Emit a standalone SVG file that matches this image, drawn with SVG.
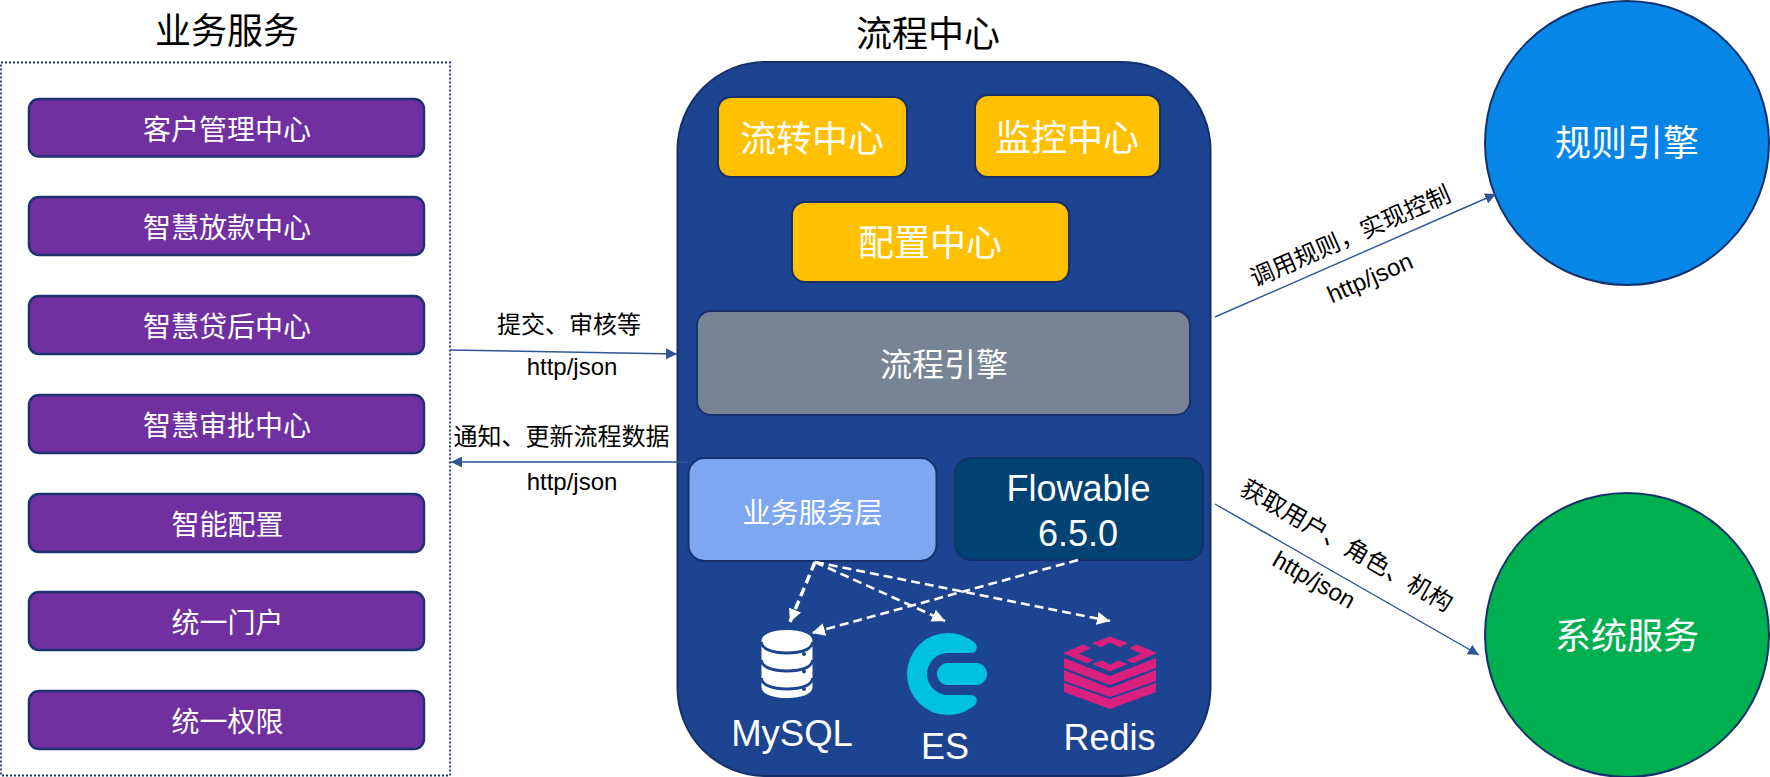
<svg xmlns="http://www.w3.org/2000/svg" width="1770" height="777" viewBox="0 0 1770 777">
<style>
text{font-family:"Noto Sans CJK SC","Liberation Sans",sans-serif;text-anchor:middle;fill:#fff}
.lat{font-family:"Liberation Sans",Arial,sans-serif}
.lab{fill:#000;font-size:24px}
.title{fill:#000;font-size:36px}
.item rect{fill:#7030A0;stroke:#1B3370;stroke-width:2.5}
.item text{font-size:28px}
.y rect{fill:#FFC000;stroke:#15306B;stroke-width:2}
.y text{font-size:36px}
.conn{fill:none;stroke:#2F5597;stroke-width:1.4}
.dash{fill:none;stroke:#fff;stroke-width:2.6;stroke-dasharray:9 5}
.dash2{stroke-width:3.4}
</style>
<defs>
<marker id="a" viewBox="0 0 10 10" refX="10" refY="5" markerWidth="11" markerHeight="11" markerUnits="userSpaceOnUse" orient="auto"><path d="M0 0L10 5L0 10Z" fill="#2F5597"/></marker>
<marker id="w" viewBox="0 0 10 10" refX="10" refY="5" markerWidth="13" markerHeight="13" markerUnits="userSpaceOnUse" orient="auto"><path d="M0 0L10 5L0 10Z" fill="#fff"/></marker>
</defs>
<rect width="1770" height="777" fill="#fff"/>
<text class="title" x="227" y="44">业务服务</text>
<text class="title" x="928" y="47">流程中心</text>
<rect id="business-frame" x="1" y="62.500" width="449" height="713" fill="#fff" stroke="#1B3370" stroke-width="1.800" stroke-dasharray="2 2"/>
<g id="n-kehu" class="item"><rect x="29" y="99" width="395" height="57.500" rx="10"/><text x="227" y="140">客户管理中心</text></g>
<g id="n-fangkuan" class="item"><rect x="29" y="197" width="395" height="58" rx="10"/><text x="227" y="238">智慧放款中心</text></g>
<g id="n-daihou" class="item"><rect x="29" y="296" width="395" height="58" rx="10"/><text x="227" y="337">智慧贷后中心</text></g>
<g id="n-shenpi" class="item"><rect x="29" y="395" width="395" height="58" rx="10"/><text x="227" y="436">智慧审批中心</text></g>
<g id="n-peizhi" class="item"><rect x="29" y="494" width="395" height="58" rx="10"/><text x="227.500" y="535">智能配置</text></g>
<g id="n-menhu" class="item"><rect x="29" y="592" width="395" height="58" rx="10"/><text x="227.500" y="633">统一门户</text></g>
<g id="n-quanxian" class="item"><rect x="29" y="691" width="395" height="58" rx="10"/><text x="227.500" y="732">统一权限</text></g>
<g id="n-center"><rect x="677.500" y="62" width="533" height="714" rx="88" fill="#1C4491" stroke="#15306B" stroke-width="2"/></g>
<g id="n-liuzhuan" class="y"><rect x="718" y="97" width="189" height="80" rx="13"/><text x="812" y="152">流转中心</text></g>
<g id="n-jiankong" class="y"><rect x="975" y="95" width="185" height="82" rx="13"/><text x="1067" y="151">监控中心</text></g>
<g id="n-config" class="y"><rect x="792" y="202" width="277" height="80" rx="13"/><text x="930" y="256">配置中心</text></g>
<g id="n-engine"><rect x="697" y="311" width="493" height="104" rx="14" fill="#778495" stroke="#15306B" stroke-width="2"/><text x="944" y="376" font-size="32">流程引擎</text></g>
<g id="n-service"><rect x="688.500" y="458" width="248" height="103" rx="16" fill="#7DA7F0" stroke="#15306B" stroke-width="2"/><text x="812.500" y="523" font-size="28">业务服务层</text></g>
<g id="n-flowable"><rect x="955" y="458" width="248" height="102" rx="16" fill="#004274" stroke="#15306B" stroke-width="2"/><text class="lat" x="1078.500" y="501" font-size="36">Flowable</text><text class="lat" x="1078" y="546" font-size="36">6.5.0</text></g>
<g id="n-mysql">
<path d="M761.500 641c0-7 11-11 25.500-11s25.500 4 25.500 11v46c0 7-11 11-25.500 11s-25.500-4-25.500-11z" fill="#fff"/>
<path d="M761.500 642c0 7 11 11 25.500 11s25.500-4 25.500-11M761.500 660c0 7 11 11 25.500 11s25.500-4 25.500-11M761.500 678c0 7 11 11 25.500 11s25.500-4 25.500-11" fill="none" stroke="#1C4491" stroke-width="2.800"/>
<circle cx="804" cy="654" r="2" fill="#1C4491"/><circle cx="804" cy="671.500" r="2" fill="#1C4491"/><circle cx="804" cy="689" r="2" fill="#1C4491"/>
<text class="lat" x="792" y="746" font-size="36.500">MySQL</text></g>
<g id="n-es">
<path d="M948 633C958 633 968 637 975 643C979 648 976 653 970 653H948A21 21 0 0 0 948 695H970C976 695 979 700 975 705C968 711 958 715 948 715A41 41 0 0 1 948 633Z" fill="#00C2DE"/>
<rect x="937" y="663" width="50" height="22" rx="11" fill="#00C2DE"/>
<text class="lat" x="945" y="759" font-size="36">ES</text></g>
<g id="n-redis" fill="#D9207F">
<path d="M1064 658L1110 676L1156 658V668L1110 685L1064 668Z"/>
<path d="M1064 670L1110 688L1156 670V681L1110 697L1064 681Z"/>
<path d="M1064 683L1110 699L1156 683V692L1110 709L1064 692Z"/>
<g stroke="#D9207F" stroke-width="0.800">
<path d="M1093 643L1110 637L1127 643L1120 647L1110 642L1101 647Z"/>
<path d="M1064 653L1083 645L1090 648L1078 654L1093 660L1087 663Z"/>
<path d="M1156 653L1137 645L1130 648L1142 654L1127 660L1133 663Z"/>
<path d="M1093 664L1102 661L1110 665L1118 661L1127 664L1110 671Z"/>
</g>
<text class="lat" x="1109.500" y="750" font-size="36" fill="#fff">Redis</text></g>
<g id="n-rule"><circle cx="1627" cy="143" r="142" fill="#0686E6" stroke="#15306B" stroke-width="2"/><text x="1627" y="156" font-size="36">规则引擎</text></g>
<g id="n-system"><circle cx="1627" cy="635" r="142" fill="#00B050" stroke="#15306B" stroke-width="2"/><text x="1627" y="649" font-size="36">系统服务</text></g>
<g id="connectors">
<path class="conn" d="M450 350L677 354" marker-end="url(#a)"/>
<path class="conn" d="M688 462H451" marker-end="url(#a)"/>
<path class="conn" d="M1215 317L1496 194" marker-end="url(#a)"/>
<path class="conn" d="M1215 504L1479 655" marker-end="url(#a)"/>
<path class="dash dash2" d="M815 562L790 622" marker-end="url(#w)"/>
<path class="dash" d="M815 562L945 621" marker-end="url(#w)"/>
<path class="dash" d="M815 562L1110 621" marker-end="url(#w)"/>
<path class="dash" d="M1078 560L812 633" marker-end="url(#w)"/>
</g>
<g id="labels">
<text class="lab" x="569" y="333">提交、审核等</text>
<text class="lab lat" x="572" y="375">http/json</text>
<text class="lab" x="561.500" y="445">通知、更新流程数据</text>
<text class="lab lat" x="572" y="490">http/json</text>
<text class="lab" transform="translate(1350 235.500) rotate(-23.600)" y="9">调用规则，实现控制</text>
<text class="lab lat" transform="translate(1370 278) rotate(-23.600)" y="8">http/json</text>
<text class="lab" transform="translate(1347 545) rotate(29.800)" y="9">获取用户、角色、机构</text>
<text class="lab lat" transform="translate(1314 580) rotate(29.800)" y="8">http/json</text>
</g>
</svg>
